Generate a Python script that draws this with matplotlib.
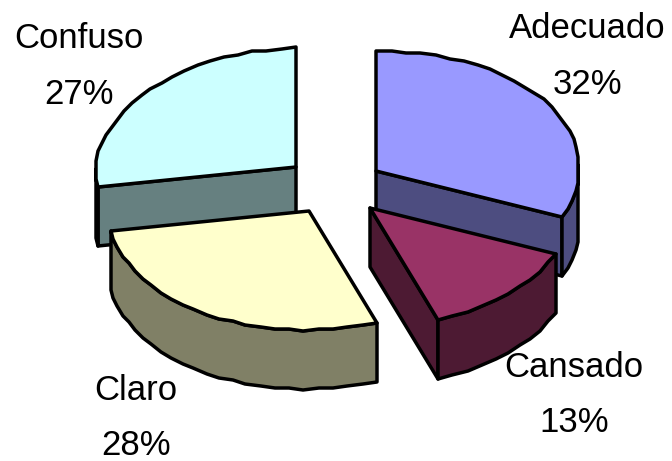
import numpy as np
import matplotlib
matplotlib.use("Agg")
import matplotlib.pyplot as plt
from matplotlib.patches import Polygon

categories = ["Adecuado", "Cansado", "Claro", "Confuso"]
values = [32, 13, 28, 27]
top_colors = ["#9999FF", "#993366", "#FFFFCC", "#CCFFFF"]
side_colors = ["#4D4D80", "#4D1A33", "#808066", "#668080"]

apex = [(376, 171), (370, 208), (309, 211), (296, 167)]
label_xy = [(587, 29, 85), (574, 367, 422), (136, 390, 445), (79, 39, 95)]
A_RIGHT, A_LEFT, B, DEPTH = 203, 200, 119, 59
plt.rcParams["font.family"] = ["Liberation Sans", "DejaVu Sans"]

fig = plt.figure(figsize=(6.72, 4.61), dpi=100)
ax = fig.add_axes([0, 0, 1, 1])
ax.set_xlim(0, 672)
ax.set_ylim(461, 0)
ax.axis("off")

total = sum(values)
edges = np.concatenate([[0], np.cumsum(values)]) / total * 360


def rim(i):
    n = max(3, int((edges[i + 1] - edges[i]) / 4))
    deg = np.linspace(edges[i], edges[i + 1], n)
    t = np.radians(deg)
    s = np.sin(t)
    x = np.where(s >= 0, A_RIGHT, A_LEFT) * s + 5 * np.maximum(0, -np.cos(t))
    y = -B * np.cos(t) - 5 * s
    # coarse pixel grid gives the slightly stepped outline of the original
    x, y = np.round(x / 2) * 2, np.round(y / 2) * 2
    return np.c_[apex[i][0] + x, apex[i][1] + y], deg


def patch(pts, color):
    ax.add_patch(Polygon(pts, closed=True, fc=color, ec="black", lw=2.5, joinstyle="round"))


def wall(a, b, color):
    patch([a, b, (b[0], b[1] + DEPTH), (a[0], a[1] + DEPTH)], color)


def outer(i, color):
    r, deg = rim(i)
    keep = (deg >= 88) & (deg <= 272)
    if keep.sum() > 1:
        r = r[keep]
        patch(np.r_[r, (r + [0, DEPTH])[::-1]], color)


def slice_(i):
    ap = np.array(apex[i], float)
    r, _ = rim(i)
    if i in (0, 1):
        wall(ap, r[-1], side_colors[i])
    if i == 3:
        wall(ap, r[0], side_colors[i])
    outer(i, side_colors[i])
    patch(np.r_[[ap], r], top_colors[i])


for i in [3, 0, 2, 1]:
    slice_(i)

for name, v, (x, y1, y2) in zip(categories, values, label_xy):
    ax.text(x, y1, name, fontsize=25, ha="center", va="center", color="black")
    ax.text(x, y2, f"{v}%", fontsize=25, ha="center", va="center", color="black")

fig.savefig("out.png", dpi=100)
